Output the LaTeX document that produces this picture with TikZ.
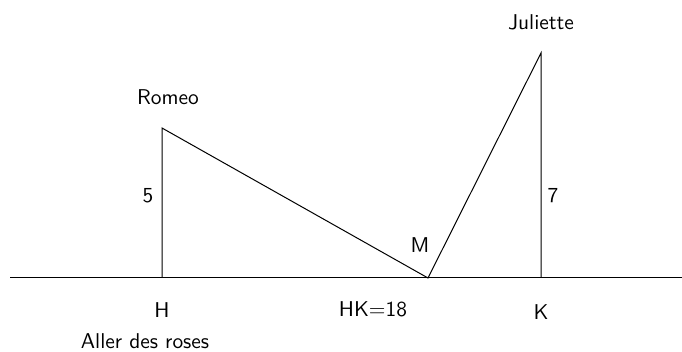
\documentclass[tikz,border=0pt]{standalone}
\begin{document}
\begin{tikzpicture}[x=0.5pt,y=-0.5pt,font=\sffamily\fontsize{10.7}{12.8}\selectfont,
  lbl/.style={inner sep=0pt,anchor=center},
  seg/.style={line width=0.5pt}]
\useasboundingbox (0,0) rectangle (682,352);
\coordinate (L) at (10,278);
\coordinate (Rt) at (682,278);
\coordinate (H) at (162,278);
\coordinate (R) at (162,128);
\coordinate (K) at (541,278);
\coordinate (J) at (541,53);
\coordinate (M) at (428,278);
\draw[seg] (L) -- (Rt);
\draw[seg] (H) -- (R) -- (M) -- (J) -- (K);
\node[lbl] (romeo) at (168,97) {Romeo};
\node[lbl] (five) at (148,196) {5};
\node[lbl] (jul) at (541,22) {Juliette};
\node[lbl] (seven) at (553,196) {7};
\node[lbl] (mlab) at (420,245) {M};
\node[lbl] (hlab) at (162,310) {H};
\node[lbl] (hk) at (373,309) {HK=18};
\node[lbl] (klab) at (541,312) {K};
\node[lbl] (aller) at (145,341) {Aller des roses};
\end{tikzpicture}
\end{document}
